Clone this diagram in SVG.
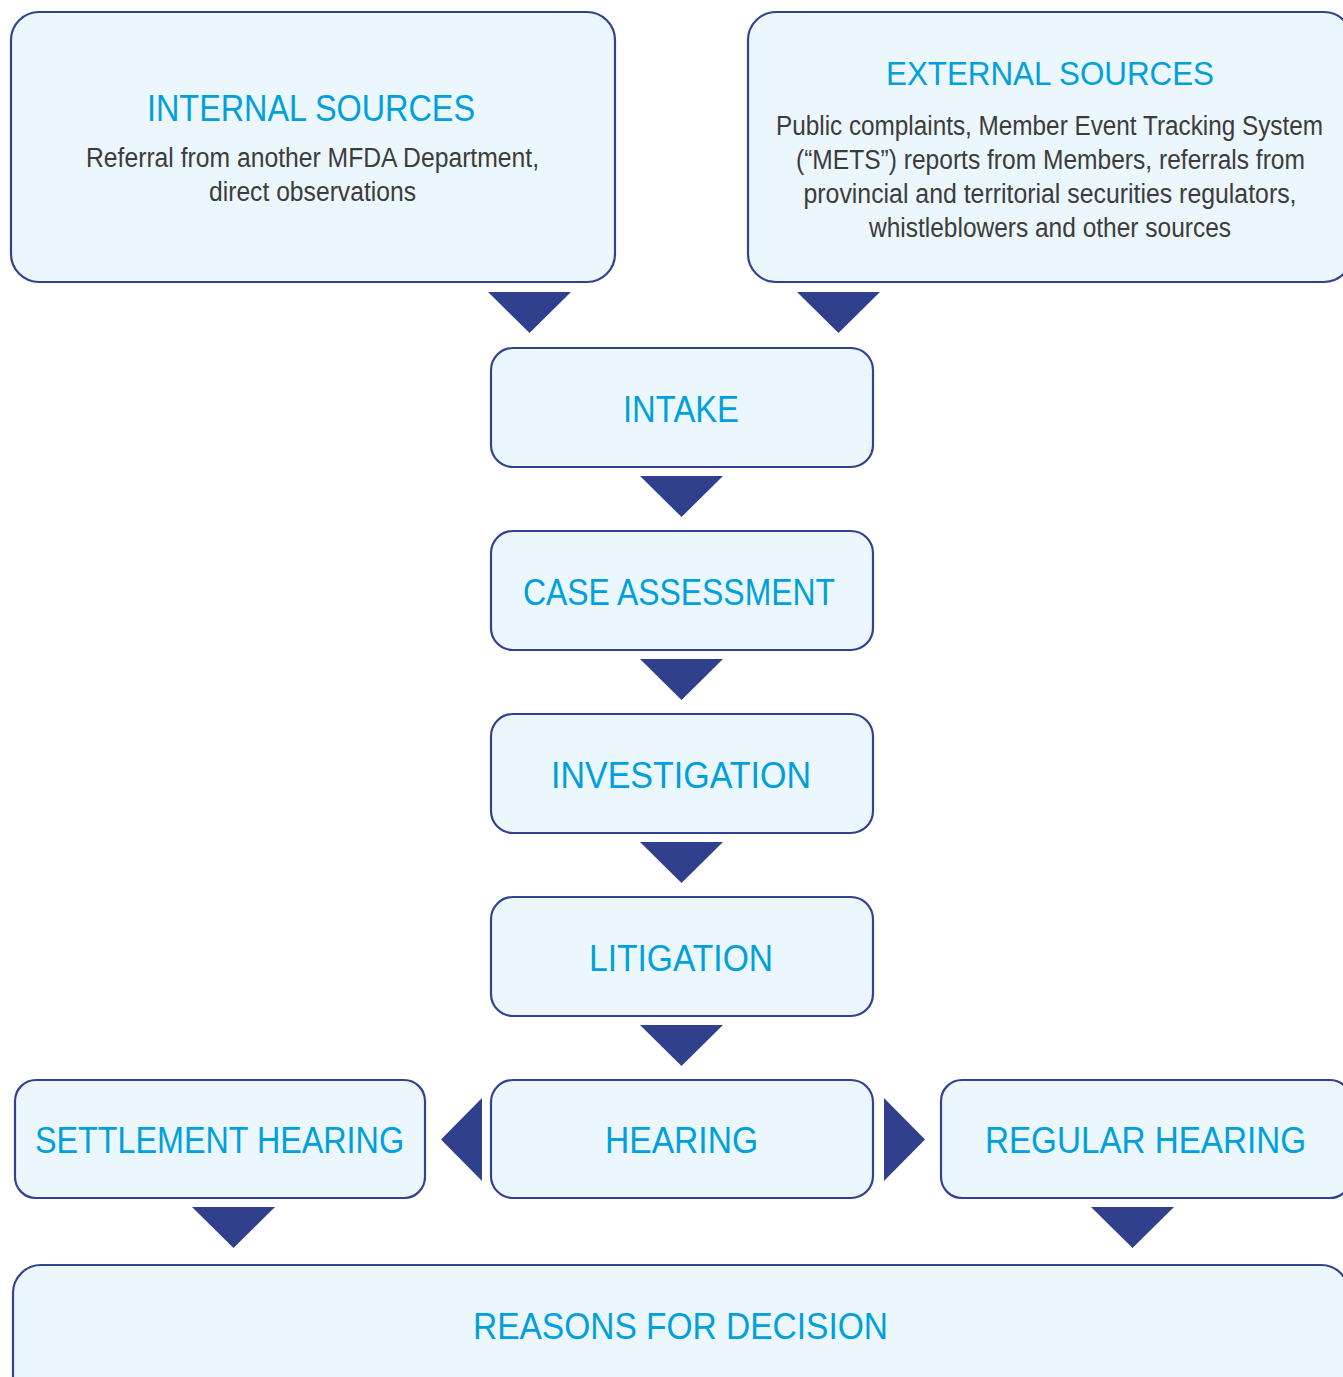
<svg xmlns="http://www.w3.org/2000/svg" width="1343" height="1377" viewBox="0 0 1343 1377">
<style>
.box{fill:#EBF6FD;stroke:#33428E;stroke-width:2.2}
.arr{fill:#31408C}
.t{font-family:"Liberation Sans",Arial,sans-serif;font-size:37px;fill:#00A0DC}
.b{font-family:"Liberation Sans",Arial,sans-serif;font-size:27px;fill:#3C3C3C}
</style>
<rect width="1343" height="1377" fill="#FFFFFF"/>
<g id="internal-sources">
<rect class="box" x="11" y="12" width="604" height="270" rx="28"/>
<text class="t" x="147" y="121" textLength="328" lengthAdjust="spacingAndGlyphs" style="font-size:36px">INTERNAL SOURCES</text>
<text class="b" x="86" y="167" textLength="453" lengthAdjust="spacingAndGlyphs">Referral from another MFDA Department,</text>
<text class="b" x="209" y="201" textLength="207" lengthAdjust="spacingAndGlyphs">direct observations</text>
</g>
<g id="external-sources">
<rect class="box" x="748" y="12" width="604" height="270" rx="28"/>
<text class="t" x="886" y="85" textLength="328" lengthAdjust="spacingAndGlyphs" style="font-size:34px">EXTERNAL SOURCES</text>
<text class="b" x="776" y="134.5" textLength="547" lengthAdjust="spacingAndGlyphs">Public complaints, Member Event Tracking System</text>
<text class="b" x="796" y="168.5" textLength="509" lengthAdjust="spacingAndGlyphs">(“METS”) reports from Members, referrals from</text>
<text class="b" x="803.5" y="202.5" textLength="493" lengthAdjust="spacingAndGlyphs">provincial and territorial securities regulators,</text>
<text class="b" x="869" y="236.5" textLength="362" lengthAdjust="spacingAndGlyphs">whistleblowers and other sources</text>
</g>
<g id="intake">
<rect class="box" x="491" y="348" width="382" height="119" rx="22"/>
<text class="t" x="623" y="421.5" textLength="116" lengthAdjust="spacingAndGlyphs">INTAKE</text>
</g>
<g id="case-assessment">
<rect class="box" x="491" y="531" width="382" height="119" rx="22"/>
<text class="t" x="523" y="604.5" textLength="312" lengthAdjust="spacingAndGlyphs">CASE ASSESSMENT</text>
</g>
<g id="investigation">
<rect class="box" x="491" y="714" width="382" height="119" rx="22"/>
<text class="t" x="551" y="787.5" textLength="260" lengthAdjust="spacingAndGlyphs">INVESTIGATION</text>
</g>
<g id="litigation">
<rect class="box" x="491" y="897" width="382" height="119" rx="22"/>
<text class="t" x="589" y="970.5" textLength="184" lengthAdjust="spacingAndGlyphs">LITIGATION</text>
</g>
<g id="hearing">
<rect class="box" x="491" y="1080" width="382" height="118" rx="22"/>
<text class="t" x="605" y="1153" textLength="153" lengthAdjust="spacingAndGlyphs">HEARING</text>
</g>
<g id="settlement-hearing">
<rect class="box" x="15" y="1080" width="410" height="118" rx="21"/>
<text class="t" x="35" y="1153" textLength="369" lengthAdjust="spacingAndGlyphs">SETTLEMENT HEARING</text>
</g>
<g id="regular-hearing">
<rect class="box" x="941" y="1080" width="410" height="118" rx="21"/>
<text class="t" x="985" y="1153" textLength="321" lengthAdjust="spacingAndGlyphs">REGULAR HEARING</text>
</g>
<g id="reasons-for-decision">
<rect class="box" x="13" y="1265" width="1336" height="140" rx="28"/>
<text class="t" x="473" y="1339" textLength="415" lengthAdjust="spacingAndGlyphs">REASONS FOR DECISION</text>
</g>
<g id="connectors">
<polygon class="arr" points="488,292 571,292 529.5,333"/>
<polygon class="arr" points="797,292 880,292 838.5,333"/>
<polygon class="arr" points="640,476 723,476 681.5,517"/>
<polygon class="arr" points="640,659 723,659 681.5,700"/>
<polygon class="arr" points="640,842 723,842 681.5,883"/>
<polygon class="arr" points="640,1025 723,1025 681.5,1066"/>
<polygon class="arr" points="482,1098 482,1181 441,1139.5"/>
<polygon class="arr" points="884,1098 884,1181 925,1139.5"/>
<polygon class="arr" points="192,1207 275,1207 233.5,1248"/>
<polygon class="arr" points="1091,1207 1174,1207 1132.5,1248"/>
</g>
</svg>
